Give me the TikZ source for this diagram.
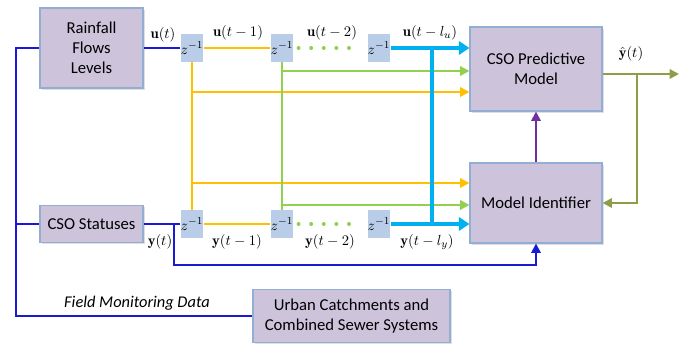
\documentclass[tikz,border=0pt]{standalone}
\usepackage{fontspec}
\newfontfamily\boxfont{Carlito}
\usetikzlibrary{arrows.meta,shadows}
\definecolor{boxfill}{HTML}{CDC4DC}
\definecolor{boxborder}{HTML}{93AED4}
\definecolor{zfill}{HTML}{B9CDE8}
\definecolor{cyel}{HTML}{FFC000}
\definecolor{cgrn}{HTML}{92D050}
\definecolor{ccyan}{HTML}{00B0F0}
\definecolor{cblue}{HTML}{1A1AD2}
\definecolor{cpurp}{HTML}{7030A0}
\definecolor{colive}{HTML}{8E9E48}
\tikzset{
  bigbox/.style={draw=boxborder, fill=boxfill, line width=0.8pt, align=center, inner sep=0pt,
    font=\boxfont\fontsize{12.5}{15}\selectfont,
    drop shadow={shadow xshift=1.5pt, shadow yshift=-1.5pt, fill=black!25, opacity=0.5}},
  zbox/.style={fill=zfill, minimum width=16.5pt, minimum height=21pt, inner sep=0pt,
    font=\fontsize{11}{12}\selectfont},
  lab/.style={font=\fontsize{11}{12}\selectfont, inner sep=0pt},
  tipS/.style={-{Triangle[length=7pt,width=7pt]}},
  tipL/.style={-{Triangle[length=8pt,width=10pt]}},
  yel/.style={draw=cyel, line width=1.5pt},
  grn/.style={draw=cgrn, line width=2pt},
  cyn/.style={draw=ccyan, line width=3pt},
  blu/.style={draw=cblue, line width=1.5pt},
}
\begin{document}
\begin{tikzpicture}[x=0.75pt,y=-0.75pt]
\useasboundingbox (0,0) rectangle (686,345);
% boxes
\node[bigbox, minimum width=77.25pt, minimum height=60pt] (rain) at (91.5,48) {Rainfall\\Flows\\Levels};
\node[bigbox, minimum width=77.25pt, minimum height=27.75pt] (cso) at (91.5,224) {CSO Statuses};
\node[bigbox, minimum width=147.75pt, minimum height=39.75pt] (urban) at (351.5,316) {Urban Catchments and\\Combined Sewer Systems};
\node[bigbox, minimum width=99pt, minimum height=63pt] (pred) at (536,69) {CSO Predictive\\Model};
\node[bigbox, minimum width=99pt, minimum height=60pt] (ident) at (536,203) {Model Identifier};
% delay boxes
\node[zbox] (zt1) at (192,48) {$z^{-1}$};
\node[zbox] (zt2) at (282,48) {$z^{-1}$};
\node[zbox] (zt3) at (379,48) {$z^{-1}$};
\node[zbox] (zb1) at (192,224) {$z^{-1}$};
\node[zbox] (zb2) at (282,224) {$z^{-1}$};
\node[zbox] (zb3) at (379,224) {$z^{-1}$};
% coordinates
\coordinate (yu) at (192,92);
\coordinate (gu) at (282,71);
\coordinate (yl) at (192,183);
\coordinate (gl) at (282,205);
\coordinate (cv) at (432,48);
\coordinate (tap) at (637,74);
\coordinate (yout) at (679,74);
\coordinate (ytap) at (174,224);
\coordinate (lt) at (16,48);
\coordinate (lm) at (16,224);
\coordinate (lb) at (16,316);
% blue lines
\draw[blu] (rain.west) -- (lt) -- (lb) -- (urban.west);
\draw[blu] (lm) -- (cso.west);
\draw[blu] (rain.east) -- (zt1.west);
\draw[blu] (cso.east) -- (zb1.west);
\draw[blu, tipS] (ytap) -- (174,265) -| (ident.south);
% yellow
\draw[yel] (zt1.east) -- (zt2.west);
\draw[yel] (zb1.east) -- (zb2.west);
\draw[yel] (zt1.south) -- (zb1.north);
\draw[yel, tipS] (yu) -- (yu -| pred.west);
\draw[yel, tipS] (yl) -- (yl -| ident.west);
% green
\draw[grn] (zt2.south) -- (zb2.north);
\draw[grn, tipS] (gu) -- (gu -| pred.west);
\draw[grn, tipS] (gl) -- (gl -| ident.west);
\draw[draw=cgrn, line width=3pt, line cap=round, dash pattern=on 0pt off 9.45pt, shorten <=3.75pt, shorten >=5pt] (zt2.east) -- (zt3.west);
\draw[draw=cgrn, line width=3pt, line cap=round, dash pattern=on 0pt off 9.45pt, shorten <=3.75pt, shorten >=5pt] (zb2.east) -- (zb3.west);
% cyan
\draw[cyn] (cv) -- (cv |- zb3);
\draw[cyn, tipL] (zt3.east) -- (zt3.east -| pred.west);
\draw[cyn, tipL] (zb3.east) -- (zb3.east -| ident.west);
% purple
\draw[draw=cpurp, line width=1.5pt, tipS] (ident.north) -- (pred.south);
% olive output
\draw[draw=colive, line width=1.5pt, tipS] (pred.east |- yout) -- (yout);
\draw[draw=colive, line width=1.5pt, tipS] (tap) |- (ident.east);
% labels
\node[lab] (l1) at (163,35) {$\mathbf{u}(t)$};
\node[lab] (l2) at (238,33) {$\mathbf{u}(t-1)$};
\node[lab] (l3) at (332,33) {$\mathbf{u}(t-2)$};
\node[lab] (l4) at (430,33) {$\mathbf{u}(t-l_u)$};
\node[lab] (l5) at (160,242) {$\mathbf{y}(t)$};
\node[lab] (l6) at (237,242) {$\mathbf{y}(t-1)$};
\node[lab] (l7) at (330,242) {$\mathbf{y}(t-2)$};
\node[lab] (l8) at (427,242) {$\mathbf{y}(t-l_y)$};
\node[lab] (l9) at (631,54) {$\hat{\mathbf{y}}(t)$};
\node[inner sep=0pt, font=\boxfont\itshape\fontsize{12.3}{14}\selectfont] (fmd) at (137,303) {Field Monitoring Data};
\end{tikzpicture}
\end{document}
